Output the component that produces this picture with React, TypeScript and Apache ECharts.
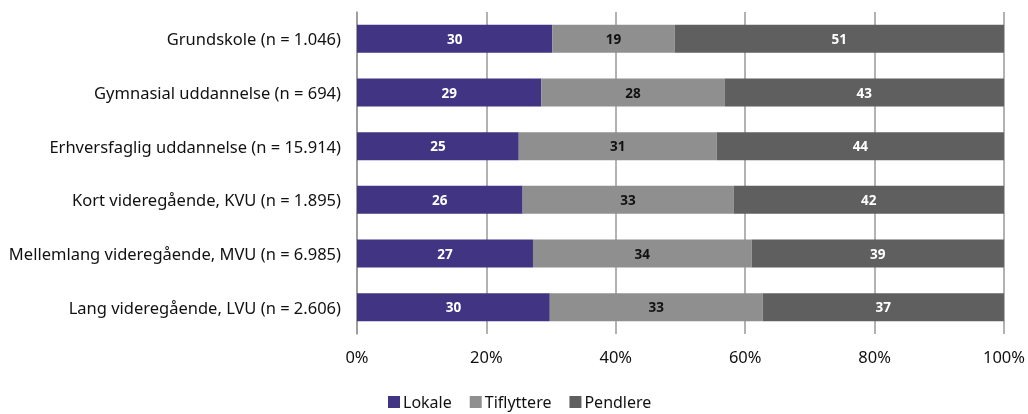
import React, { useEffect, useRef } from "react";
import * as echarts from "echarts";

const categories = [
  "Grundskole (n = 1.046)",
  "Gymnasial uddannelse (n = 694)",
  "Erhversfaglig uddannelse (n = 15.914)",
  "Kort videregående, KVU (n = 1.895)",
  "Mellemlang videregående, MVU (n = 6.985)",
  "Lang videregående, LVU (n = 2.606)",
];
const lokale = [30.2, 28.5, 25.0, 25.6, 27.2, 29.8];
const tilflyttere = [18.9, 28.3, 30.6, 32.6, 33.8, 32.9];
const pendlere = [50.9, 43.2, 44.4, 41.8, 39.0, 37.3];
const seriesNames = ["Lokale", "Tiflyttere", "Pendlere"];
const colors = ["#413482", "#8f8f8f", "#5f5f5f"];
const labelColors = ["#ffffff", "#111111", "#ffffff"];

const FONT = "Noto Sans";

export default function App() {
  const ref = useRef<HTMLDivElement>(null);
  useEffect(() => {
    if (!ref.current) return;
    const chart = echarts.init(ref.current, null, { renderer: "svg" });
    const data = [lokale, tilflyttere, pendlere];
    chart.setOption({
      animation: false,
      textStyle: { fontFamily: FONT },
      grid: { left: 357, right: 23, top: 12, bottom: 80, containLabel: false },
      xAxis: {
        type: "value",
        min: 0,
        max: 100,
        interval: 20,
        axisLabel: {
          formatter: (v: number) => v + "%",
          color: "#111",
          fontSize: 16.5,
          fontFamily: FONT,
          margin: 14,
        },
        axisLine: { show: false },
        axisTick: { show: false },
        splitLine: { show: true, lineStyle: { color: "#999999", width: 1.5 } },
      },
      yAxis: {
        type: "category",
        data: categories,
        inverse: true,
        axisLabel: { color: "#111", fontSize: 16.5, fontFamily: FONT, margin: 16 },
        axisLine: { show: true, lineStyle: { color: "#999999", width: 1.5 } },
        axisTick: { show: false },
      },
      legend: {
        bottom: 4,
        left: 388,
        padding: 0,
        itemWidth: 12,
        itemHeight: 12,
        itemGap: 18,
        icon: "rect",
        textStyle: {
          fontSize: 16,
          lineHeight: 16,
          color: "#111",
          fontFamily: FONT,
          padding: [0, 0, 0, -2],
        },
        data: seriesNames,
      },
      series: seriesNames.map((name, i) => ({
        name,
        type: "bar",
        stack: "total",
        barWidth: 28,
        itemStyle: { color: colors[i] },
        label: {
          show: true,
          position: "inside",
          formatter: (p: any) => String(Math.round(p.value)),
          color: labelColors[i],
          fontSize: 13.5,
          fontWeight: "bold",
          fontFamily: FONT,
        },
        data: data[i],
      })),
    });
    return () => chart.dispose();
  }, []);
  return (
    <div
      ref={ref}
      style={{ position: "fixed", left: 0, top: 0, width: 1028, height: 414 }}
    />
  );
}
